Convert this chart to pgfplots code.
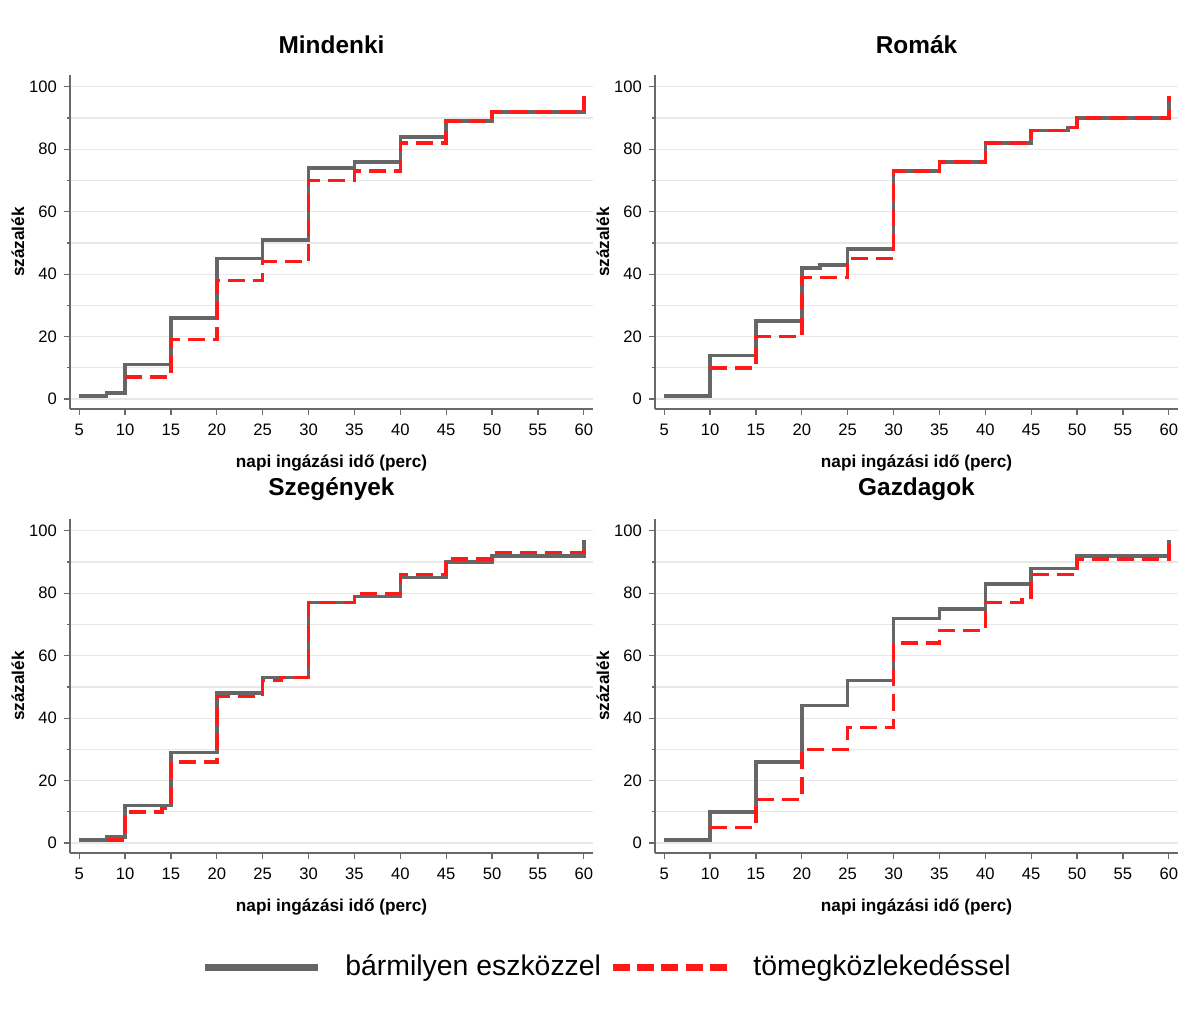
\documentclass[border=0pt]{standalone}
\usepackage{pgfplots}
\pgfplotsset{compat=1.18}
\usepackage{fontspec}
\setmainfont{Liberation Sans}
\definecolor{lgray}{RGB}{102,102,102}
\definecolor{lred}{RGB}{255,26,26}
\definecolor{gridc}{RGB}{232,232,232}
\definecolor{axc}{RGB}{105,105,105}
\pgfplotsset{
  every axis title shift=0pt,
  panel/.style={
    scale only axis, width=261.5pt, height=167pt,
    xmin=4, xmax=61, ymin=-3.2, ymax=103.8,
    axis lines*=left, axis line style={axc, line width=0.6pt},
    tick align=outside, tick style={axc, line width=0.6pt},
    major tick length=3pt, minor tick length=1.5pt,
    xtick={5,10,...,60}, ytick={0,20,...,100}, minor ytick={10,30,...,90},
    xmajorgrids=false, ymajorgrids=true, yminorgrids=true,
    major grid style={gridc, line width=0.6pt}, minor grid style={gridc, line width=0.6pt},
    /pgf/number format/assume math mode=true,
    tick label style={font=\fontsize{8.3}{10}\selectfont},
    xticklabel style={yshift=-1pt},
    xlabel={napi ingázási idő (perc)}, ylabel={százalék},
    label style={font=\bfseries\fontsize{8.6}{10}\selectfont},
    xlabel style={at={(axis description cs:0.5,-0.1617)}, anchor=center},
    ylabel style={at={(axis description cs:-0.0994,0.5)}, anchor=center},
    title style={at={(axis description cs:0.5,1.0898)}, anchor=center, font=\bfseries\fontsize{12.2}{14}\selectfont},
    clip=false,
  },
  gl/.style={const plot, lgray, line width=1.75pt, no marks},
  rl/.style={const plot, lred, line width=1.75pt, no marks, dash pattern=on 8.5pt off 4pt},
}
\begin{document}
\begin{tikzpicture}
\useasboundingbox (0,0) rectangle (597pt,516pt);
% Mindenki
\begin{axis}[panel, at={(35pt,311.5pt)}, anchor=south west, title={Mindenki}]
\addplot[gl] coordinates {(5,1)(8,2)(10,11)(15,26)(20,45)(25,51)(30,74)(35,76)(40,84)(45,89)(50,92)(60,97)};
\addplot[rl] coordinates {(10,7)(15,19)(20,38)(25,44)(30,70)(35,73)(40,82)(45,89)(50,92)(60,97)};
\end{axis}
% Romak
\begin{axis}[panel, at={(327.5pt,311.5pt)}, anchor=south west, title={Romák}]
\addplot[gl] coordinates {(5,1)(10,14)(15,25)(20,42)(22,43)(25,48)(30,73)(35,76)(40,82)(45,86)(49,87)(50,90)(60,97)};
\addplot[rl] coordinates {(10,10)(15,20)(20,39)(25,45)(30,73)(35,76)(40,82)(45,86)(49,87)(50,90)(60,97)};
\end{axis}
% Szegenyek
\begin{axis}[panel, at={(35pt,89.5pt)}, anchor=south west, title={Szegények}]
\addplot[gl] coordinates {(5,1)(8,2)(10,12)(15,29)(20,48)(25,53)(30,77)(35,79)(40,85)(45,90)(50,92)(60,97)};
\addplot[rl] coordinates {(8,1)(10,10)(14,11)(15,26)(20,47)(25,52)(27,53)(30,77)(35,80)(40,86)(45,91)(50,93)(60,95.5)};
\end{axis}
% Gazdagok
\begin{axis}[panel, at={(327.5pt,89.5pt)}, anchor=south west, title={Gazdagok}]
\addplot[gl] coordinates {(5,1)(10,10)(15,26)(20,44)(25,52)(30,72)(35,75)(40,83)(45,88)(50,92)(60,97)};
\addplot[rl] coordinates {(10,5)(15,14)(20,30)(25,37)(30,64)(35,68)(40,77)(44,78)(45,86)(50,91)(60,97)};
\end{axis}
% legend
\draw[lgray, line width=3.5pt] (102.5pt,32pt) -- (159pt,32pt);
\node[anchor=west, inner sep=0pt, font=\fontsize{14.2}{16}\selectfont] at (172.5pt,32pt) {bármilyen eszközzel};
\draw[lred, line width=3.5pt, dash pattern=on 8.5pt off 3.6pt] (306.5pt,32pt) -- (363.5pt,32pt);
\node[anchor=west, inner sep=0pt, font=\fontsize{14.2}{16}\selectfont] at (376.5pt,32pt) {tömegközlekedéssel};
\end{tikzpicture}
\end{document}
